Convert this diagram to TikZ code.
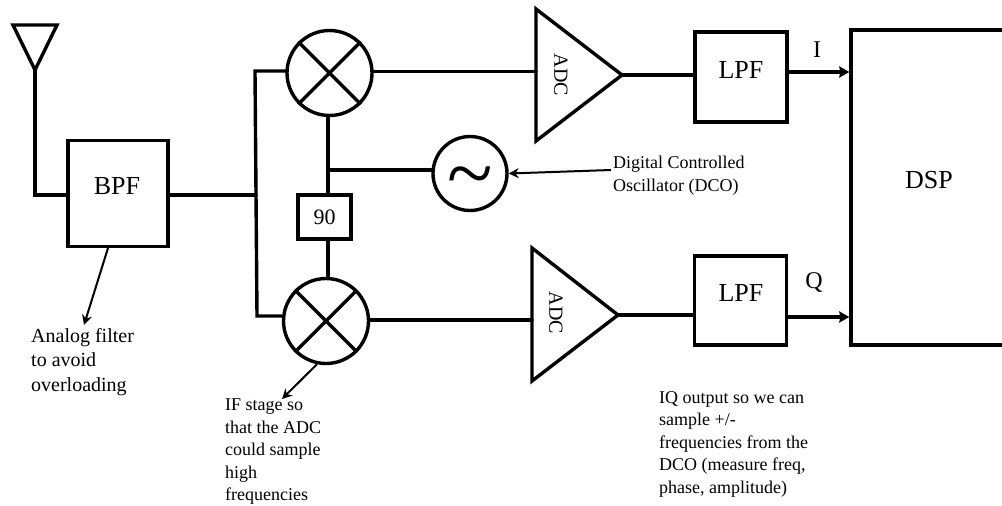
\documentclass[tikz,border=0pt]{standalone}
\usepackage{fontspec}
\setmainfont{Liberation Serif}
\usetikzlibrary{arrows.meta}
\tikzset{
 wire/.style={line width=3.4pt,line cap=round,line join=miter},
 thinarrow/.style={line width=2pt,-{Stealth[length=10pt,width=10pt]}},
 wirearrow/.style={line width=3.4pt,-{Stealth[length=10pt,width=11pt,inset=1pt]}},
 blockbox/.style={draw,line width=3.4pt,inner sep=0pt},
 ring/.style={circle,draw,line width=3.4pt,inner sep=0pt},
 note/.style={font=\fontsize{18}{22.5}\selectfont,align=left,anchor=north west,inner sep=0pt},
 bigtext/.style={font=\fontsize{26}{30}\selectfont,inner sep=0pt},
 adctext/.style={rotate=-90,font=\fontsize{20}{22}\selectfont,inner sep=0pt},
}
\begin{document}
\begin{tikzpicture}[x=1pt,y=-1pt]
\useasboundingbox (0,0) rectangle (1002,506);
% antenna
\coordinate (antapex) at (35,70);
\coordinate (antcorner) at (35,195);
\draw[wire] (antapex) -- (13,25) -- (57,25) -- cycle;
% blocks
\node[blockbox,minimum width=100pt,minimum height=106pt] (bpf) at (118,193.5) {};
\node[bigtext] (bpft) at (117,186) {BPF};
\node[blockbox,minimum width=92pt,minimum height=90pt] (l1) at (741,77) {};
\node[bigtext] (l1t) at (741,70) {LPF};
\node[blockbox,minimum width=92pt,minimum height=89pt] (l2) at (740.5,300.5) {};
\node[bigtext] (l2t) at (741,293) {LPF};
\node[blockbox,minimum width=155pt,minimum height=315pt] (dsp) at (928.5,187.5) {};
\node[bigtext] (dspt) at (929,180) {DSP};
\node[blockbox,minimum width=53pt,minimum height=44pt,font=\fontsize{22}{24}\selectfont] (ph) at (324.5,217) {90};
% mixers
\node[ring,minimum size=85pt] (m1) at (329.5,73) {};
\node[ring,minimum size=85pt] (m2) at (326,321) {};
\foreach \m in {m1,m2}{
 \draw[wire,line cap=butt] (\m.45) -- (\m.225);
 \draw[wire,line cap=butt] (\m.135) -- (\m.315);
}
% antenna to filter
\draw[wire] (antapex) -- (antcorner) -- (antcorner -| bpf.west);
% splitter
\coordinate (sp) at (256,195);
\draw[wire] (bpf.east |- sp) -- (sp);
\coordinate (sptop) at (255,71);
\coordinate (spbot) at (257,316);
\draw[wire] (sptop -| m1.west) -- (sptop) -- (spbot) -- (spbot -| m2.west);
% oscillator
\node[ring,minimum size=74pt] (osc) at (470,173.5) {};
\node[inner sep=0pt,font=\fontsize{84}{84}\selectfont] (tilde) at (470,184) {\textasciitilde};
\coordinate (lo) at (328,170);
\coordinate (lotop) at (328,117);
\coordinate (lobot) at (328,276);
\draw[wire] (lotop) -- (lo |- ph.north);
\draw[wire] (lo |- ph.south) -- (lobot);
\draw[wire] (lo) -- (lo -| osc.west);
% ADCs
\coordinate (a1t) at (536,9);
\coordinate (a1o) at (622,75);
\coordinate (a1b) at (536,141);
\draw[wire] (a1t) -- (a1o) -- (a1b) -- cycle;
\node[adctext] (a1) at (561,75) {ADC};
\coordinate (a2t) at (532,248);
\coordinate (a2o) at (618,315);
\coordinate (a2b) at (532,381);
\draw[wire] (a2t) -- (a2o) -- (a2b) -- cycle;
\node[adctext] (a2) at (556,313) {ADC};
\coordinate (y1) at (0,71.5);
\coordinate (y2) at (0,320);
\draw[wire] (y1 -| m1.east) -- (y1 -| a1t);
\draw[wire] (y2 -| m2.east) -- (y2 -| a2t);
\draw[wire] (a1o) -- (a1o -| l1.west);
\draw[wire] (a2o) -- (a2o -| l2.west);
% outputs
\coordinate (yi) at (0,72);
\coordinate (yq) at (0,317);
\draw[wirearrow] (yi -| l1.east) -- (yi -| dsp.west);
\draw[wirearrow] (yq -| l2.east) -- (yq -| dsp.west);
\node[font=\fontsize{24}{26}\selectfont,inner sep=0pt] (i) at (817,50) {I};
\node[font=\fontsize{24}{26}\selectfont,inner sep=0pt] (q) at (814,282) {Q};
% notes
\node[note] (n1) at (613,156) {Digital Controlled\\Oscillator (DCO)};
\coordinate (n1a) at (611,170);
\draw[thinarrow] (n1a) -- (osc.east);
\node[note,font=\fontsize{20}{24.5}\selectfont] (n2) at (31,328) {Analog filter\\to avoid\\overloading};
\coordinate (n2s) at (108,248);
\coordinate (n2t) at (84,325);
\draw[thinarrow] (n2s) -- (n2t);
\node[note] (n3) at (225,399) {IF stage so\\that the ADC\\could sample\\high\\frequencies};
\coordinate (n3t) at (282,399);
\draw[thinarrow] (m2.south) ++(-9,-1) -- (n3t);
\node[note] (n4) at (659,391) {IQ output so we can\\sample +/-\\frequencies from the\\DCO (measure freq,\\phase, amplitude)};
\end{tikzpicture}
\end{document}
